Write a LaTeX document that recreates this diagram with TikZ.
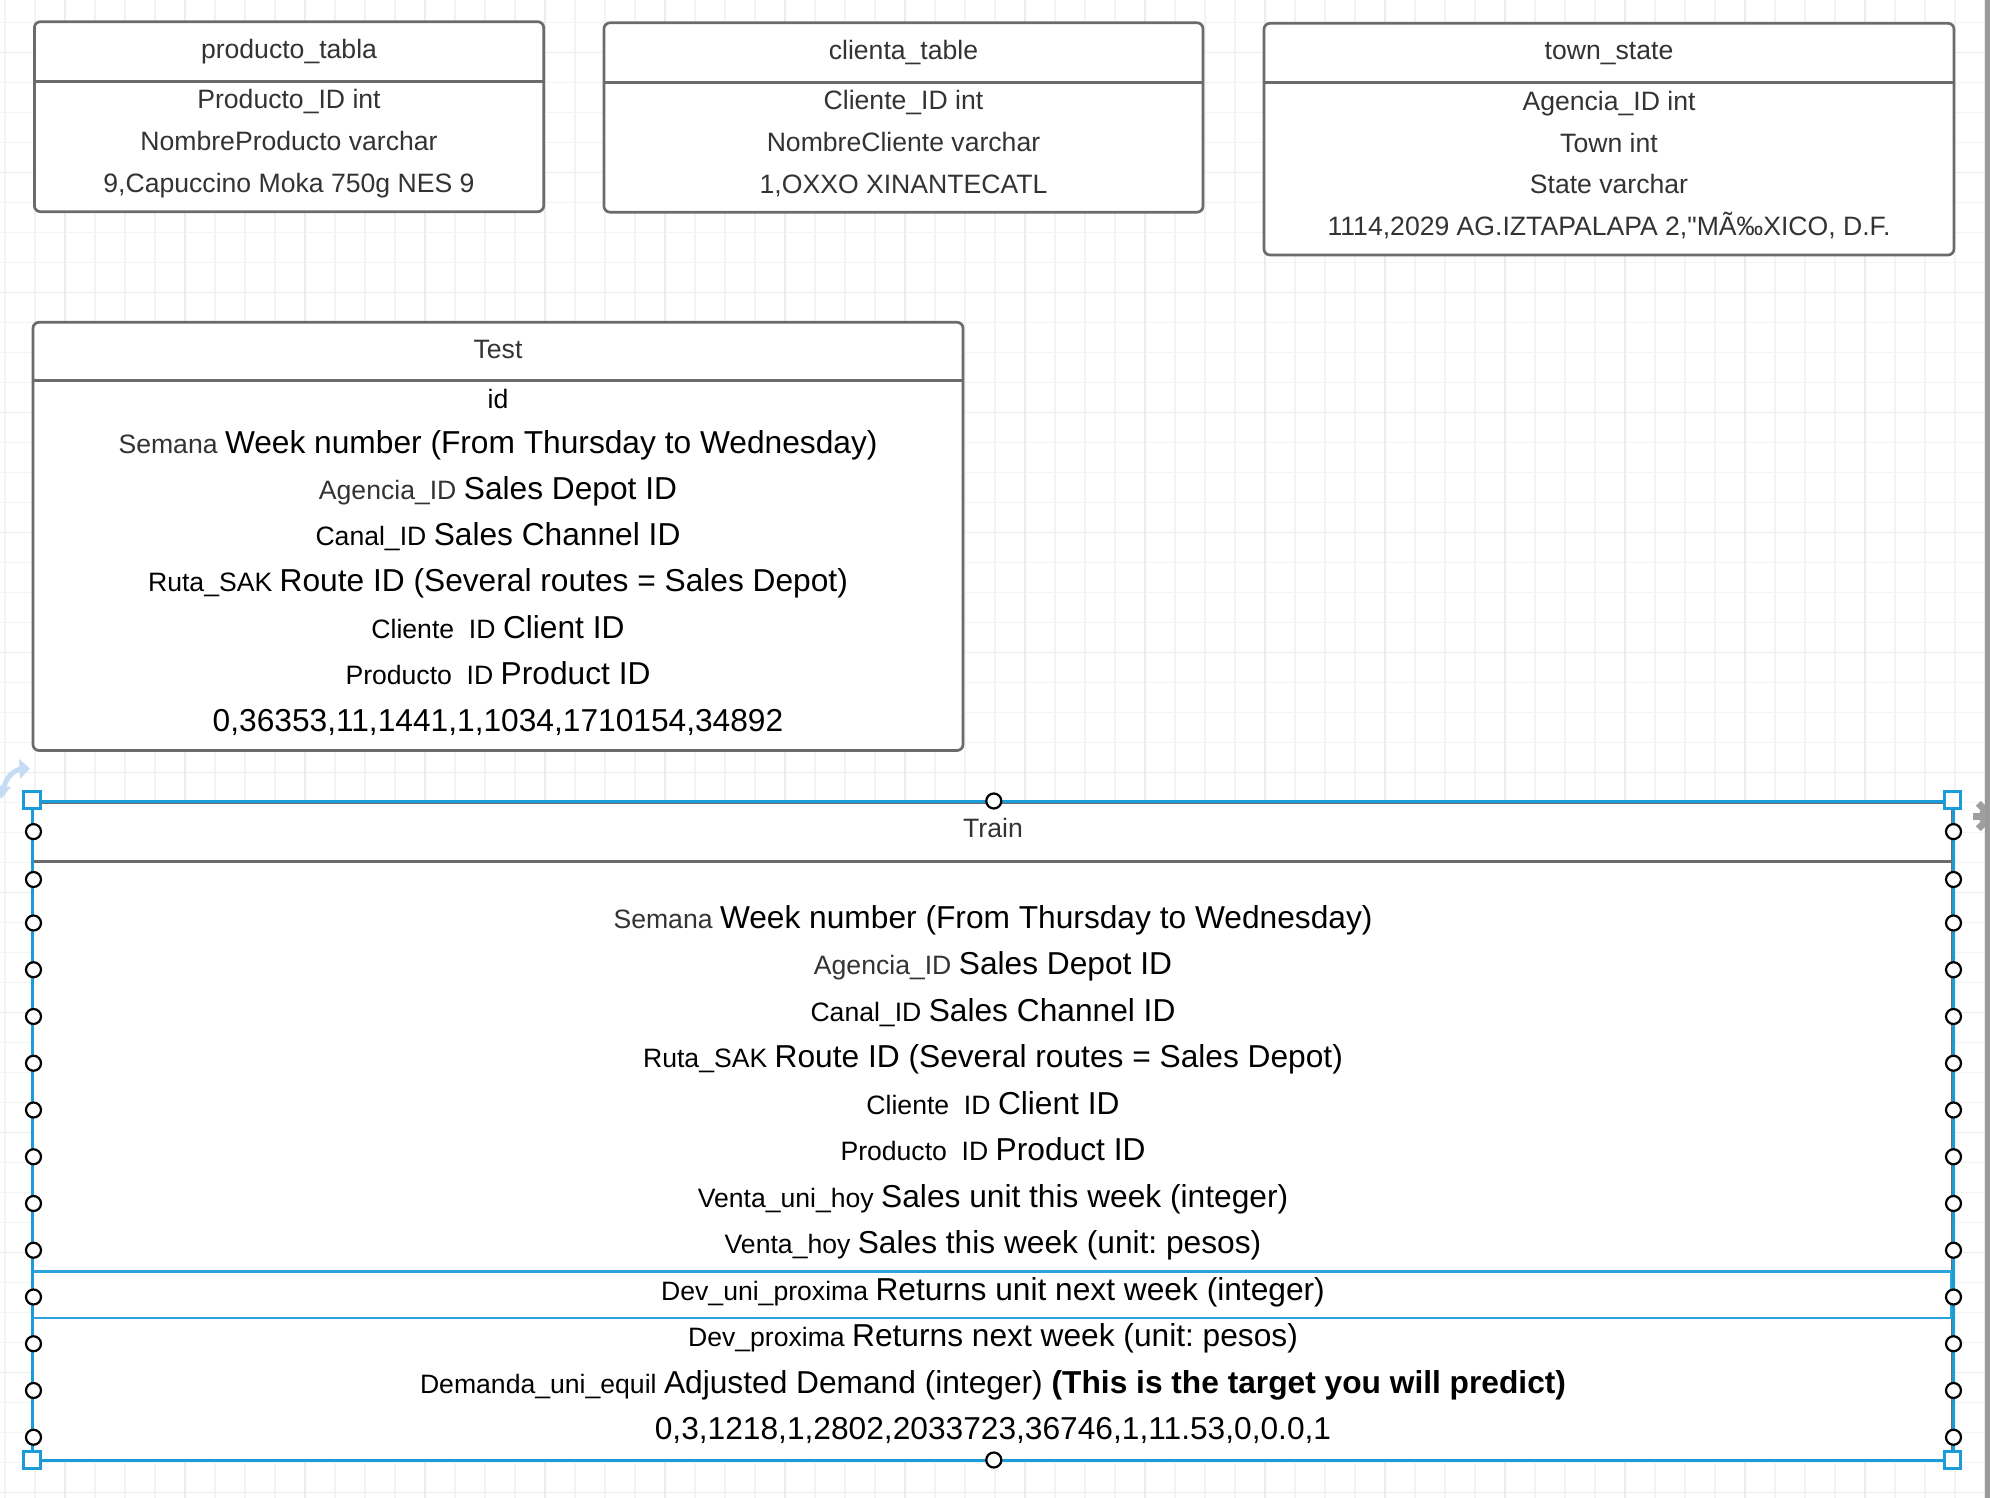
\documentclass[tikz,border=0pt]{standalone}
\usepackage{fontspec}
\setmainfont{Liberation Sans}[Ligatures=TeXOff]
\frenchspacing
\definecolor{bordergray}{HTML}{6B6B6B}
\definecolor{txtgray}{HTML}{333333}
\definecolor{selblue}{HTML}{1B9BD8}
\definecolor{rowblue}{HTML}{2AA3DC}
\definecolor{gridminor}{HTML}{F3F3F3}
\definecolor{gridmajor}{HTML}{ECECEC}
\definecolor{rotblue}{HTML}{C6DCF5}
\definecolor{stripgray}{HTML}{9A9A9A}
\newcommand\fsm{\fontsize{26.6}{32}\selectfont}
\newcommand\flg{\fontsize{31.7}{38}\selectfont}
\tikzset{
  tbl/.style={draw=bordergray, line width=2.7pt, rounded corners=6pt, fill=white},
  sepline/.style={draw=bordergray, line width=2.7pt},
  txt/.style={anchor=base, inner sep=0pt, text=txtgray, font=\fsm},
  txtb/.style={anchor=base, inner sep=0pt, text=black, font=\fsm},
  hcirc/.style={circle, draw=black, line width=2.2pt, fill=white, minimum size=15pt, inner sep=0pt},
  hsq/.style={rectangle, draw=selblue, line width=2.6pt, fill=white, minimum size=16.5pt, inner sep=0pt},
}
\begin{document}
\begin{tikzpicture}[x=1pt,y=-1pt]
\useasboundingbox (0,0) rectangle (1990,1498);
\fill[white] (0,0) rectangle (1990,1498);
% grid
\foreach \i in {0,...,66} \draw[gridminor, line width=1.1pt] ({5+30*\i},0) -- ({5+30*\i},1498);
\foreach \j in {0,...,49} \draw[gridminor, line width=1.1pt] (0,{22.5+30*\j}) -- (1990,{22.5+30*\j});
\foreach \i in {0,...,16} \draw[gridmajor, line width=1.1pt] ({65+120*\i},0) -- ({65+120*\i},1498);
\foreach \j in {0,...,12} \draw[gridmajor, line width=1.1pt] (0,{52.5+120*\j}) -- (1990,{52.5+120*\j});

% producto_tabla
\draw[tbl] (34.4,21.7) rectangle (543.7,211.7);
\draw[sepline] (34.4,81.7) -- (543.7,81.7);
\node[txt] (p0) at (289,59) {producto\_tabla};
\node[txt] (p1) at (289,109) {Producto\_ID int};
\node[txt] (p2) at (289,150.7) {NombreProducto varchar};
\node[txt] (p3) at (289,192.3) {9,Capuccino Moka 750g NES 9};

% clienta_table
\draw[tbl] (604,22.8) rectangle (1203,212.2);
\draw[sepline] (604,82.7) -- (1203,82.7);
\node[txt] (c0) at (903.5,60) {clienta\_table};
\node[txt] (c1) at (903.5,110) {Cliente\_ID int};
\node[txt] (c2) at (903.5,152) {NombreCliente varchar};
\node[txt] (c3) at (903.5,193.6) {1,OXXO XINANTECATL};

% town_state
\draw[tbl] (1264,23.3) rectangle (1954,255);
\draw[sepline] (1264,82.7) -- (1954,82.7);
\node[txt] (t0) at (1609,59.5) {town\_state};
\node[txt] (t1) at (1609,110.7) {Agencia\_ID int};
\node[txt] (t2) at (1609,152.3) {Town int};
\node[txt] (t3) at (1609,194) {State varchar};
\node[txt] (t4) at (1609,235.7) {1114,2029 AG.IZTAPALAPA 2,"MÃ‰XICO, D.F.};

% Test
\draw[tbl] (33,322.3) rectangle (963,750.5);
\draw[sepline] (33,380.7) -- (963,380.7);
\node[txt] (e0) at (498,358.5) {Test};
\node[txtb] (e1) at (498,408) {id};
\node[txtb] (e2) at (498,453) {{\color{txtgray}Semana} \flg Week number (From Thursday to Wednesday)};
\node[txtb] (e3) at (498,499) {{\color{txtgray}Agencia\_ID} \flg Sales Depot ID};
\node[txtb] (e4) at (498,545.5) {Canal\_ID \flg Sales Channel ID};
\node[txtb] (e5) at (498,591.5) {Ruta\_SAK \flg Route ID (Several routes = Sales Depot)};
\node[txtb] (e6) at (498,638) {Cliente\ \ ID \flg Client ID};
\node[txtb] (e7) at (498,684.5) {Producto\ \ ID \flg Product ID};
\node[txtb, font=\flg] (e8) at (498,731) {0,36353,11,1441,1,1034,1710154,34892};

% Train
\draw[draw=bordergray, line width=2.7pt, fill=white] (33,803) rectangle (1952,1461);
\draw[sepline] (33,861.7) -- (1952,861.7);
\node[txt] (r0) at (993,837) {Train};
\node[txtb] (r1) at (993,928) {{\color{txtgray}Semana} \flg Week number (From Thursday to Wednesday)};
\node[txtb] (r2) at (993,974.5) {{\color{txtgray}Agencia\_ID} \flg Sales Depot ID};
\node[txtb] (r3) at (993,1021) {Canal\_ID \flg Sales Channel ID};
\node[txtb] (r4) at (993,1067.5) {Ruta\_SAK \flg Route ID (Several routes = Sales Depot)};
\node[txtb] (r5) at (993,1114) {Cliente\ \ ID \flg Client ID};
\node[txtb] (r6) at (993,1160.5) {Producto\ \ ID \flg Product ID};
\node[txtb] (r7) at (993,1207) {Venta\_uni\_hoy \flg Sales unit this week (integer)};
\node[txtb] (r8) at (993,1253.5) {Venta\_hoy \flg Sales this week (unit: pesos)};
\node[txtb] (r9) at (993,1300) {Dev\_uni\_proxima \flg Returns unit next week (integer)};
\node[txtb] (r10) at (993,1346.5) {Dev\_proxima \flg Returns next week (unit: pesos)};
\node[txtb] (r11) at (993,1393) {Demanda\_uni\_equil \flg Adjusted Demand (integer) \textbf{(This is the target you will predict)}};
\node[txtb, font=\flg] (r12) at (993,1439.5) {0,3,1218,1,2802,2033723,36746,1,11.53,0,0.0,1};

% selection
\draw[rowblue, line width=2.6pt] (33,1271.7) rectangle (1951.5,1318);
\draw[selblue, line width=3pt] (32.5,801) rectangle (1953.5,1460);
\foreach \yy [count=\n] in {831.6,879.5,923,969.75,1016.5,1063.25,1110,1156.75,1203.5,1250.25,1297,1343.75,1390.5,1437.25} {
  \node[hcirc] (hl\n) at (33.5,\yy) {};
  \node[hcirc] (hr\n) at (1953.5,\yy) {};
}
\node[hcirc] (htop) at (993.8,801) {};
\node[hcirc] (hbot) at (993.8,1460) {};
\node[hsq] (s1) at (32,800) {};
\node[hsq] (s2) at (1952.5,800) {};
\node[hsq] (s3) at (32,1460) {};
\node[hsq] (s4) at (1952.5,1460) {};

% rotate icon
\draw[rotblue, line width=5pt] (3,790) .. controls (6,778) and (12,771) .. (21,769);
\fill[rotblue] (19,759) -- (30,768.5) -- (20,779) -- cycle;
\fill[rotblue] (-4,785) -- (11,787) -- (1,799) -- cycle;

% gear (partly hidden)
\fill[gray!75] (1991,816) circle (12);
\foreach \a in {0,45,...,315}
  \fill[gray!75, rotate around={\a:(1991,816)}] (1987.5,798) rectangle (1994.5,806);
% right strip
\fill[stripgray] (1984.5,0) rectangle (1990,1498);
\end{tikzpicture}
\end{document}
